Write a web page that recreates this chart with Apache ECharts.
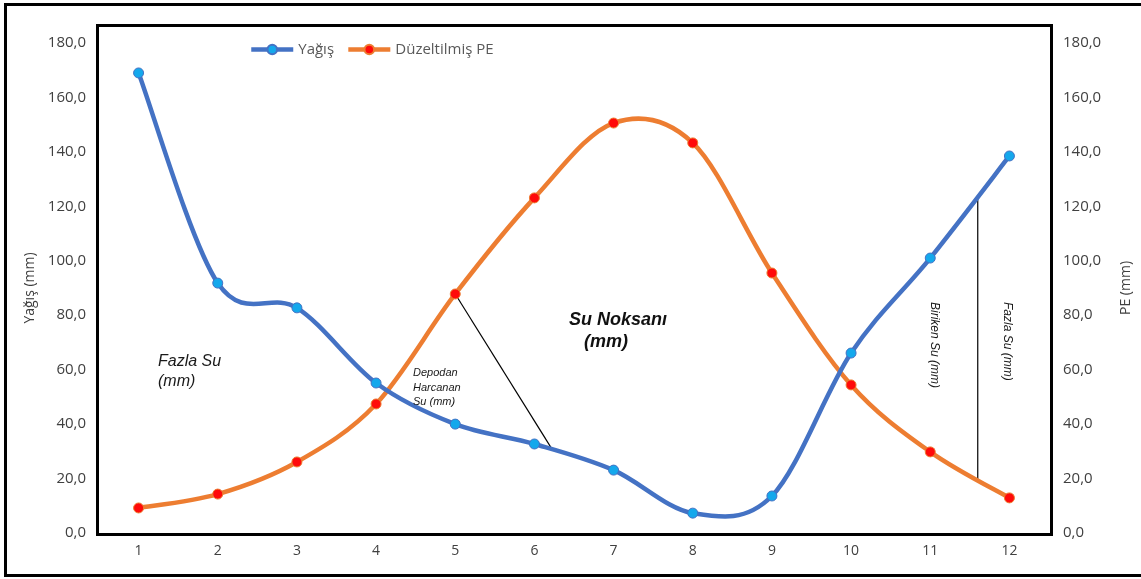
<!DOCTYPE html>
<html>
<head>
<meta charset="utf-8">
<script src="https://cdn.jsdelivr.net/npm/echarts@6/dist/echarts.min.js"></script>
<style>
  html, body { margin: 0; padding: 0; background: #fff; }
  #chart { width: 1141px; height: 579px; }
</style>
</head>
<body>
<div id="chart"></div>
<script>
// Months 1..12
const months = ['1','2','3','4','5','6','7','8','9','10','11','12'];
// Monthly precipitation (mm)
const yagis = [169.0, 91.8, 82.7, 55.1, 40.0, 32.7, 23.1, 7.3, 13.6, 66.1, 101.0, 138.5];
// Adjusted potential evapotranspiration (mm)
const duzeltilmisPE = [9.2, 14.3, 26.1, 47.4, 87.8, 123.1, 150.6, 143.3, 95.5, 54.4, 29.8, 12.9];
// Axis range
const axisMin = 0, axisMax = 180, axisStep = 20;

const FONT = 'Open Sans';
const fmt = v => v.toFixed(1).replace('.', ',');
const BLUE = '#4472C4', ORANGE = '#ED7D31';
const LINE_W = 4.5;

const chart = echarts.init(document.getElementById('chart'), null, { renderer: 'canvas' });

const yAxisCommon = {
  type: 'value', min: axisMin, max: axisMax, interval: axisStep,
  splitLine: { show: false },
  axisLine: { show: false }, axisTick: { show: false },
  nameLocation: 'middle',
  nameTextStyle: { color: '#404040', fontSize: 14, fontFamily: FONT },
};

// Cardinal-spline curve through the points, drawn segment by segment
function splineSeries(values, color, yAxisIndex, z) {
  const n = values.length;
  return {
    type: 'custom', yAxisIndex, z, silent: true,
    encode: { x: 0, y: 1 },
    data: values.map((v, i) => [i, v]),
    renderItem(params, api) {
      const i = params.dataIndex;
      if (i >= n - 1) return null;
      const P = k => {
        const j = Math.max(0, Math.min(n - 1, k));
        return api.coord([j, values[j]]);
      };
      const p0 = P(i - 1), p1 = P(i), p2 = P(i + 1), p3 = P(i + 2);
      const t = 1 / 6;
      return {
        type: 'bezierCurve',
        shape: {
          x1: p1[0], y1: p1[1], x2: p2[0], y2: p2[1],
          cpx1: p1[0] + (p2[0] - p0[0]) * t, cpy1: p1[1] + (p2[1] - p0[1]) * t,
          cpx2: p2[0] - (p3[0] - p1[0]) * t, cpy2: p2[1] - (p3[1] - p1[1]) * t
        },
        style: { stroke: color, lineWidth: LINE_W, fill: null, lineCap: 'round' }
      };
    }
  };
}

chart.setOption({
  animation: false,
  backgroundColor: '#fff',
  textStyle: { fontFamily: FONT },
  grid: { left: 99, right: 92, top: 43, bottom: 46, containLabel: false, outerBoundsMode: 'none' },
  legend: {
    left: 244, top: 37,
    itemWidth: 42, itemHeight: 12, itemGap: 12,
    textStyle: { color: '#595959', fontSize: 15, fontFamily: FONT },
    data: [
      { name: 'Yağış', lineStyle: { color: BLUE, width: LINE_W, opacity: 1 } },
      { name: 'Düzeltilmiş PE', lineStyle: { color: ORANGE, width: LINE_W, opacity: 1 } }
    ]
  },
  xAxis: {
    type: 'category', data: months, boundaryGap: true,
    axisLine: { show: false }, axisTick: { show: false },
    axisLabel: { color: '#404040', fontSize: 14, margin: 11, fontFamily: FONT }
  },
  yAxis: [
    Object.assign({}, yAxisCommon, {
      position: 'left', name: 'Yağış (mm)', nameGap: 55,
      axisLabel: { color: '#404040', fontSize: 15, margin: 13, formatter: fmt, fontFamily: FONT }
    }),
    Object.assign({}, yAxisCommon, {
      position: 'right', name: 'PE (mm)', nameGap: 70, nameRotate: 90,
      axisLabel: { color: '#404040', fontSize: 15, margin: 14, formatter: fmt, fontFamily: FONT }
    })
  ],
  series: [
    splineSeries(duzeltilmisPE, ORANGE, 1, 2),
    splineSeries(yagis, BLUE, 0, 3),
    {
      name: 'Yağış', type: 'line', data: yagis, yAxisIndex: 0,
      symbol: 'circle', symbolSize: 10,
      lineStyle: { color: BLUE, width: 0, opacity: 0 },
      itemStyle: { color: '#14A8EC', borderColor: BLUE, borderWidth: 1 },
      z: 5
    },
    {
      name: 'Düzeltilmiş PE', type: 'line', data: duzeltilmisPE, yAxisIndex: 1,
      symbol: 'circle', symbolSize: 10,
      lineStyle: { color: ORANGE, width: 0, opacity: 0 },
      itemStyle: { color: '#FF0A0A', borderColor: ORANGE, borderWidth: 1 },
      z: 4
    }
  ]
});

// Pixel position for a fractional month (1-based) and a value on the mm scale
function toPx(month, value) {
  const a = chart.convertToPixel({ xAxisIndex: 0, yAxisIndex: 0 }, [0, value]);
  const b = chart.convertToPixel({ xAxisIndex: 0, yAxisIndex: 0 }, [1, value]);
  return [a[0] + (b[0] - a[0]) * (month - 1), a[1]];
}

const p5 = toPx(5, duzeltilmisPE[4]);
const pLow = toPx(6.22, 30.9);
const vTop = toPx(11.6, 123.8);
const vBot = toPx(11.6, 18.7);

const italic = (text, x, y, size, extra) => ({
  type: 'text', x, y, z: 20,
  style: Object.assign({
    text, fill: '#1a1a1a', font: 'italic ' + size + 'px "Liberation Sans", Arial, sans-serif',
    lineHeight: size + 4
  }, extra || {})
});

chart.setOption({
  graphic: [
    // outer border
    { type: 'rect', shape: { x: 5.5, y: 4.5, width: 1160, height: 571 },
      style: { fill: null, stroke: '#000', lineWidth: 3 }, z: 30, silent: true },
    // plot frame
    { type: 'rect', shape: { x: 97.5, y: 25.5, width: 954, height: 509 },
      style: { fill: null, stroke: '#000', lineWidth: 3 }, z: 30, silent: true },
    // leader lines
    { type: 'line', shape: { x1: p5[0], y1: p5[1], x2: pLow[0], y2: pLow[1] },
      style: { stroke: '#000', lineWidth: 1.2 }, z: 1 },
    { type: 'line', shape: { x1: vTop[0], y1: vTop[1], x2: vBot[0], y2: vBot[1] },
      style: { stroke: '#000', lineWidth: 1.2 }, z: 1 },
    italic('Fazla Su\n(mm)', 158, 352, 16),
    italic('Depodan\nHarcanan\nSu (mm)', 413, 366, 11, { lineHeight: 14.5 }),
    {
      type: 'text', x: 569, y: 309, z: 20,
      style: { text: 'Su Noksanı\n   (mm)', fill: '#111',
        font: 'italic bold 18px "Liberation Sans", Arial, sans-serif', lineHeight: 22 }
    },
    {
      type: 'text', x: 940, y: 302, rotation: -Math.PI / 2, z: 20,
      style: { text: 'Biriken Su (mm)', fill: '#1a1a1a',
        font: 'italic 12px "Liberation Sans", Arial, sans-serif' }
    },
    {
      type: 'text', x: 1013, y: 302, rotation: -Math.PI / 2, z: 20,
      style: { text: 'Fazla Su (mm)', fill: '#1a1a1a',
        font: 'italic 12px "Liberation Sans", Arial, sans-serif' }
    }
  ]
});
</script>
</body>
</html>
